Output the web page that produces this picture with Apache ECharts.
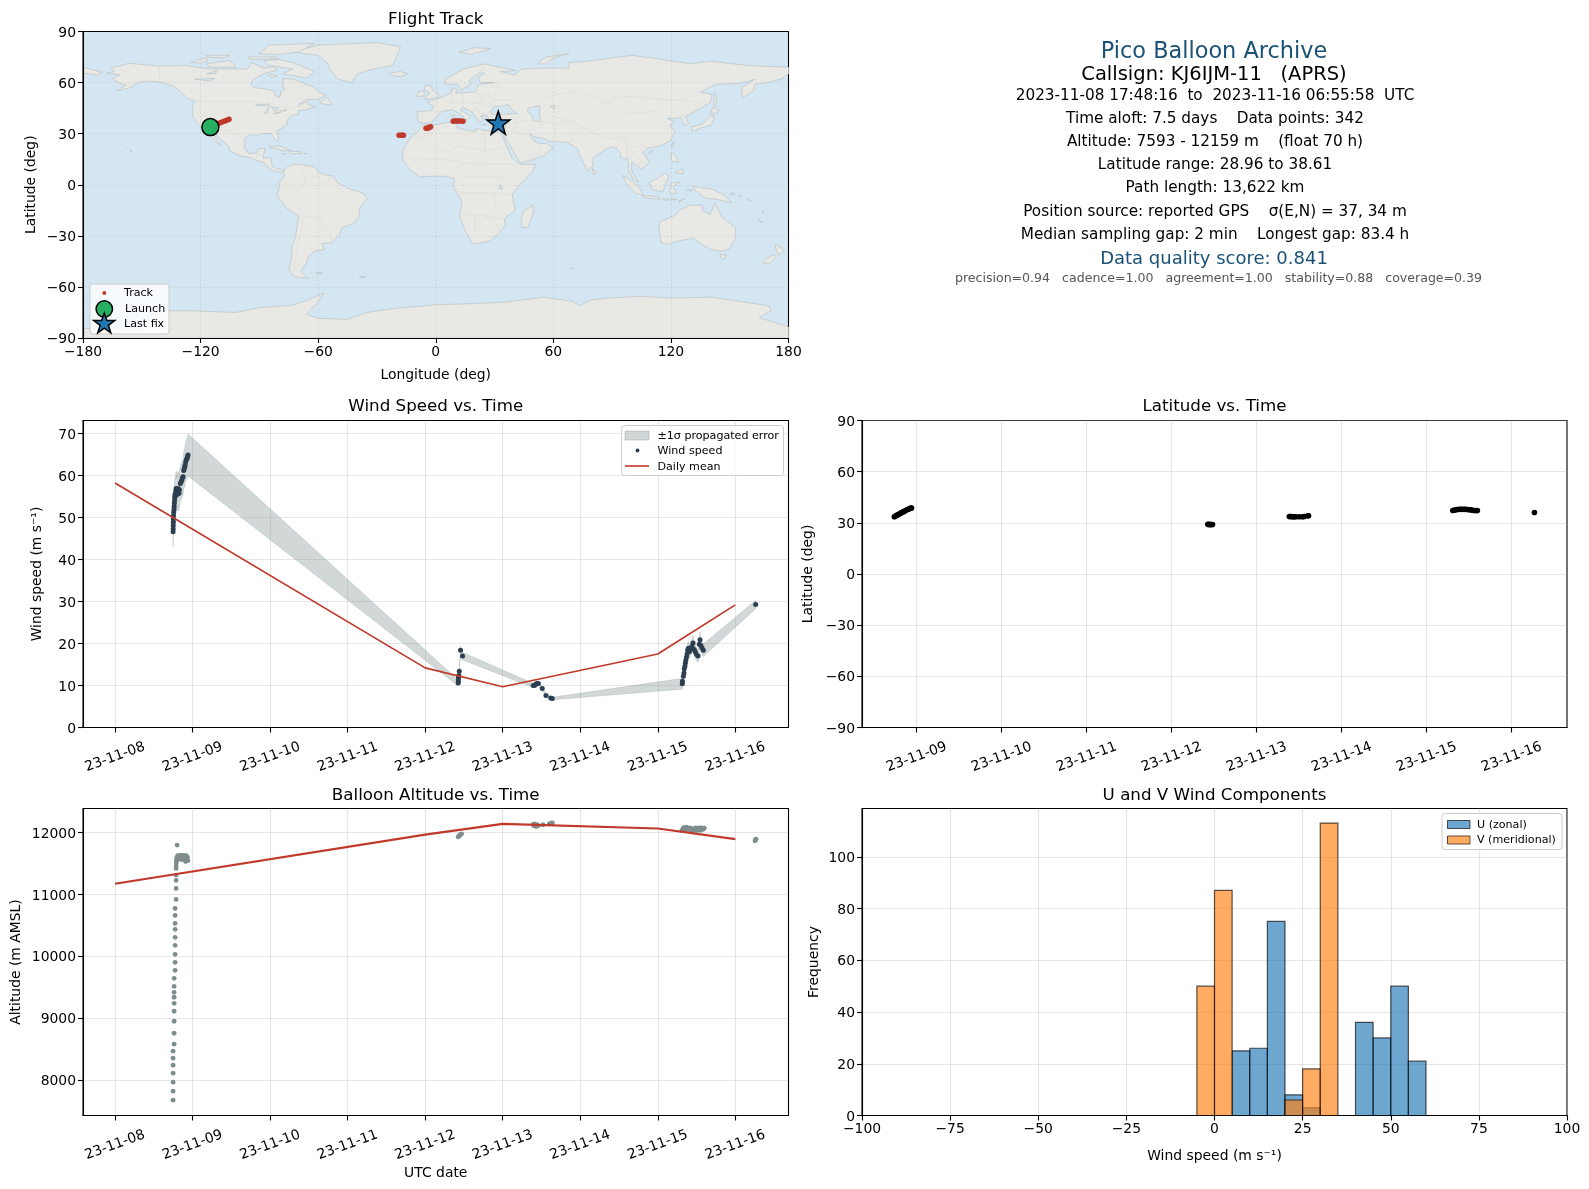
<!DOCTYPE html>
<html><head><meta charset="utf-8">
<style>html,body{margin:0;padding:0;background:#fff}#c{width:1589px;height:1189px}</style>
<script src="https://cdn.jsdelivr.net/npm/echarts@6/dist/echarts.min.js"></script>
</head><body><div id="c"></div>
<script>
// ---------- chart data ----------
const dayTicks = ['23-11-08','23-11-09','23-11-10','23-11-11','23-11-12','23-11-13','23-11-14','23-11-15','23-11-16'];
const meanDays = [0,4,5,7,8];
const meanWind = [58.2,14.2,9.7,17.5,29.2];
const meanAlt = [11171,11965,12139,12065,11892];
// [day, wind speed, sigma]
const windPoints = [
[.749,46.6,3.5],[.750,47.3,3.5],[.751,48.1,3.6],[.752,48.9,3.6],[.753,49.6,3.6],[.755,50.4,3.7],[.757,51.2,3.7],[.760,51.9,3.8],[.762,52.6,3.8],[.765,53.4,3.8],
[.768,54.1,3.9],[.770,54.9,4.0],[.773,55.5,4.0],[.776,55.0,4.0],[.779,55.6,4.0],[.783,56.3,4.1],[.788,56.9,4.1],[.793,55.4,4.0],[.800,56.8,4.1],[.808,55.6,4.0],
[.815,56.9,4.1],[.822,56.4,4.1],[.826,55.8,4.1],[.830,56.6,4.1],[.843,58.1,4.3],[.852,58.5,4.3],[.861,58.9,4.3],[.869,59.4,4.4],[.878,59.7,4.4],[.886,61.2,4.5],
[.893,61.7,4.6],[.900,62.0,4.6],[.904,62.5,4.7],[.912,63.3,4.7],[.921,63.8,4.8],[.930,64.1,4.8],[.936,64.5,4.9],[.942,64.9,5.0],
[4.426,10.6,.7],[4.428,11.1,.7],[4.430,11.7,.8],[4.432,12.1,.8],[4.434,12.4,.9],[4.440,13.4,.9],[4.456,18.4,1.0],[4.482,17.0,.9],
[5.394,10.0,.5],[5.41,10.0,.5],[5.425,10.3,.5],[5.44,10.5,.5],[5.46,10.5,.5],[5.51,9.3,.4],[5.558,7.6,.3],[5.62,7.0,.3],[5.64,6.9,.3],
[7.316,10.4,1.3],[7.318,11.0,1.3],[7.33,12.2,1.3],[7.338,13,1.3],[7.342,14,1.4],[7.35,14.6,1.4],[7.355,15.3,1.4],[7.362,16,1.4],[7.37,16.7,1.5],[7.378,17.5,1.5],
[7.385,18.4,1.6],[7.395,18.9,1.6],[7.41,18.1,1.6],[7.425,18.9,1.7],[7.44,19.3,1.7],[7.455,20.1,1.8],[7.47,18.6,1.6],[7.485,18.0,1.6],[7.50,17.4,1.5],[7.52,17.0,1.5],
[7.535,19.8,1.8],[7.545,20.9,1.9],[7.555,19.6,1.7],[7.57,19.0,1.6],[7.588,18.4,1.5],
[8.263,29.3,1.0]];
// [day, altitude]
const altPoints = [
[.749,7678],[.749,7823],[.749,7968],[.749,8113],[.749,8242],[.749,8355],[.749,8468],[.762,8581],[.762,8758],[.762,8952],[.762,9113],[.762,9242],[.762,9339],[.762,9419],[.762,9516],[.762,9645],
[.775,9774],[.775,9903],[.775,10032],[.775,10178],[.775,10307],[.775,10436],[.775,10532],[.775,10661],[.775,10774],[.788,10919],[.788,11097],[.788,11226],[.788,11312],[.788,11419],[.788,11460],[.790,11510],[.801,11796],
[.792,11550],[.796,11590],[.800,11560],[.806,11620],[.812,11580],[.820,11625],[.826,11610],[.834,11570],[.840,11630],[.848,11590],[.856,11620],[.862,11560],[.870,11630],[.878,11600],[.886,11570],[.894,11625],[.902,11590],[.910,11530],[.918,11625],[.926,11570],[.934,11600],[.940,11545],
[4.426,11930],[4.436,11945],[4.447,11952],[4.458,11968],[4.47,11978],
[5.394,12130],[5.40,12110],[5.41,12140],[5.42,12120],[5.43,12095],[5.44,12125],[5.46,12110],[5.52,12125],[5.60,12140],[5.625,12150],[5.64,12156],
[7.31,12030],[7.325,12060],[7.34,12080],[7.355,12040],[7.37,12085],[7.385,12065],[7.40,12045],[7.415,12075],[7.43,12030],[7.445,12060],[7.46,12010],[7.475,12050],[7.49,12075],[7.505,12030],[7.52,12060],[7.535,12075],[7.55,12035],[7.57,12075],[7.585,12050],[7.60,12070],
[8.254,11866],[8.26,11880],[8.267,11892]];
// [day, latitude]
const latPoints = [
[.737,33.6],[.75,34.0],[.765,34.4],[.78,34.8],[.795,35.2],[.81,35.6],[.825,36.0],[.84,36.4],[.855,36.8],[.87,37.2],[.885,37.6],[.90,38.0],[.915,38.3],[.93,38.6],[.94,38.7],
[4.425,29.1],[4.435,29.1],[4.445,29.0],[4.455,29.0],[4.465,29.0],[4.48,29.0],
[5.384,33.7],[5.395,33.7],[5.41,33.7],[5.425,33.6],[5.44,33.6],[5.46,33.6],[5.50,33.6],[5.54,33.6],[5.56,33.7],[5.60,34.1],[5.61,34.1],
[7.306,37.2],[7.32,37.4],[7.34,37.7],[7.36,37.8],[7.38,37.9],[7.40,37.9],[7.42,37.9],[7.44,37.9],[7.46,37.9],[7.48,37.8],[7.50,37.7],[7.52,37.6],[7.54,37.4],[7.56,37.2],[7.58,37.2],[7.596,37.2],
[8.267,36.1]];
// [lon, lat]
const trackPoints = [
[-115,33.85],[-114,34.4],[-113,34.9],[-112,35.4],[-111,35.9],[-110,36.4],[-109,36.9],[-108,37.3],[-107,37.8],[-106,38.2],[-105.5,38.5],
[-18.7,29.1],[-18,29],[-17.2,29],[-16.5,29],
[-5,33.2],[-4.4,33.2],[-3.8,33.4],[-3.2,33.7],[-2.6,34],
[8.9,37.3],[9.8,37.4],[10.8,37.5],[11.8,37.5],[12.8,37.4],[13.9,37.3],
[31.9,36.4]];
const launchPoint = [-115,33.85];
const lastFixPoint = [31.9,36.4];
const binEdges = [-5,0,5,10,15,20,25,30,35,40,45,50,55,60];
const uCounts = [0,0,25,26,75,8,3,0,0,36,30,50,21];
const vCounts = [50,87,0,0,0,6,18,113,0,0,0,0,0];

// ---------- base map outlines (lon, lat) ----------
const landNorthAmerica = [-168,65.5,-164,66.5,-166,68.5,-156.5,71.3,-141,69.7,-128,70,-115,68,-108,68,-96,68,-94,72,-88,68.5,-82,69.5,-81.5,67,-87,65.5,-93,62,-94.5,59,-92.5,57,-88,56.5,-82.5,55,-82,52.5,-79.5,51.3,-79,54.5,-77,56,-78,58.5,-78,62.5,-73,62,-70,61,-66,58.8,-62,57.5,-60,55,-56,52.5,-60,50.2,-66,50,-70,47,-65,49,-65,47,-61,46,-66,44,-70,43.5,-70,41.5,-74,40.5,-76,37,-76,35,-81,31.5,-80,26.5,-81,25,-82.8,28,-84,30,-89,30,-90,29,-94,29.5,-97.3,27.5,-97.7,22,-95.5,18.5,-91.5,18.5,-90.5,21,-87,21.5,-88,17,-88.5,15.8,-84,15.8,-83.5,11,-81,9,-79.5,9.5,-77.5,8.5,-78.5,7.5,-80.5,7.5,-83,8.3,-85.5,10,-87.5,13,-92,14.5,-95,16,-100,17,-105.5,20,-105.5,22.5,-109,26,-112.5,30,-114.7,31.5,-113,29,-110,23,-112,25,-115,28,-117,32.5,-120.5,34.5,-124,40,-124,47,-123,49,-127,51,-130,54.5,-134,58,-140,60,-146,61,-152,60,-156,57,-163,55,-158,58.5,-162,60,-165,62.5,-161,64.5];
const landSouthAmerica = [-77.5,8.5,-75,11,-72,12,-70,12,-62,10.5,-60,8,-57,6,-52,5,-50,1,-44,-2.5,-37,-5,-35,-8,-39,-14,-39,-18,-41,-22,-48,-25.5,-49,-29,-53,-34,-58,-34.5,-57,-38,-62,-39,-65,-42,-66,-46,-69,-51,-65,-55,-72,-54,-75,-50,-73.5,-42,-73.5,-37,-71.5,-30,-70,-18,-76,-14,-81,-6,-80,-2,-80,1,-77.5,4];
const landAfrica = [-17,15,-16.5,21,-13,27.5,-9.5,31,-6,35.8,-2,35,10,37.3,11,33.5,15,32.3,20,31,20.5,33,29,31,33,31,34,28,37,21,39,15.5,43,12,51,12,49,7,42,-1,39,-6,40.5,-15,35,-20,35.5,-24,32.5,-28,28,-33,20,-34.7,18,-33,15,-27,12,-18,13.5,-10,9,-1,9.5,3.5,5,5,-4,5,-8,4.5,-13,8.5];
const landEurasia = [-9,37,-9.5,43,-2,43.5,-1,46,-4.5,48.5,2,51,8,54,8.5,57,11,56,10,54,14,54,20,54.5,22,59,30,60,23,60,21.5,63,25,65.5,22,65.7,17,61,18,59,13,55.5,11,59,5,59,5,62,14,68,25,71,41,67,33,66.5,40,64.5,44,68,54,68.5,68,68.5,68,72,73,72,80,73,100,76,113,74,130,71,140,72.5,160,70,180,69,180,65,177,62.5,170,60,163,59,162,55,156.5,51,156,57,163,62,155,59.5,143,59,135,54.5,141,53,140,48,132,43,127.5,40,129,36,126.5,34.5,126,37,125,39.5,121,39,118,39,122,37,119.5,35,122,31,120,26,114,22.5,108,21.5,106,19,109,13,105,9,103,11,100,13.5,100,8,103.5,1.5,101,3,98.5,8,98,15,94.5,16,94,19,91,22.5,87,21,80.5,16,80,11,77.5,8,73,18,72.5,21,67,25,57,25.5,56,27,51,28,48,30,50,26,53,24,56,24.5,60,22,55,17,45,13,43,13,39,21,35,28,34.5,31.5,36,36,30,36.3,27,37,26.5,40,26,40.8,23,40.5,24,38,22.5,36.7,19.5,41,19,42.5,13.5,45.5,12.5,44,18,40,16,38,12,42,8.5,44,3,43,0,39.5,-2,36.8,-5.5,36];
const landGreenland = [-73,78,-60,82,-30,83.5,-18,81,-20,75,-22,70,-32,68,-40,65,-43,60,-50,62,-54,68,-55,71,-60,76];
const landAustralia = [114,-22,122,-18,125,-14.5,130,-12,136,-12,136,-15,140,-17.5,142.5,-10.7,146,-19,153,-25,153,-31,150,-37.5,146,-39,140,-38,136,-35,131,-31.5,124,-33,118,-35,115,-34,114,-27];
const landAntarctica = [-180,-90,-180,-84.5,-150,-84,-145,-76,-136,-74,-125,-74,-102,-75,-89,-72,-74,-71,-66,-68,-57,-63.5,-61,-70,-66,-76,-60,-78.5,-45,-79,-35,-75,-20,-72.5,0,-70.5,14,-70,35,-69,55,-66,70,-68.5,73,-71,80,-67.5,88,-66.5,105,-65.5,120,-66.5,141,-66,155,-68.5,170,-71,171,-74,165,-78,180,-83.5,180,-90];
const landIslands = [
[-180,69,-175,67.5,-170,66,-173,64.5,-180,65.5],
[-80,73.5,-72,71.5,-62,66.5,-66,62.5,-72,64,-78,65,-73,68,-85,70,-88,73],
[-117,71,-105,73,-102,69,-115,69],[-125,72,-118,74.5,-116,73,-120,71.5],
[-90,77,-85,82,-62,83,-70,78,-80,76.5],[-96,75,-82,75,-80,74,-95,73.5],[-117,76,-105,76,-108,74.5,-117,75],
[-59,48,-55.5,51.5,-53,47,-56,47],[-85,65,-81,64,-84,62.5],
[-5.5,50,1,51.2,1.5,53,-2,56,-2,57.7,-5,58.5,-6,56,-3,54,-5,52],[-10,52,-6,52,-6,55,-8.5,55],
[-24,65.5,-18,66.5,-14,65,-18,63.5,-22,64],[12,78,20,80.5,28,80,18,76.5],[52,71,56,75,68,77,60,74.5,56,71],
[12.5,38,15.5,38,15,36.8],[8.3,41,9.7,41,9.5,39,8.5,39],[23.5,35.5,26,35.3,25,35],[32.5,35,34.5,35.6,33.5,34.6],
[130.5,34,136,35.5,140,40,141.5,41,142,39,140.5,35,136,33.7,131,31.2],[140,42,141.5,45.5,145,43.5,143,42],[142,46,142,54,143.5,52,143,47],
[120.2,23,121.5,25.2,121,22],[108.7,19,110.5,20,110,18.3],[80,9.5,82,7,80.5,6],
[49.5,-12,50,-16,47,-25,44,-25,43.5,-21,44.5,-16],
[95.5,5.5,100,2,104,-2,106,-6,102,-5,97,1],[105.5,-6.5,110,-6.5,114.5,-7.5,114.5,-8.7,106,-7.5],
[109,1.5,113,3.5,117,7,119,5,117.5,1,116,-4,110.5,-3],[119.5,-5.5,120,1,125,1.5,121,-1,123,-5],
[131,-1,141,-2.5,147,-6,151,-10.5,143,-8.5,138,-8,133,-4],[120,18.5,122,18,124,13,120.5,14],[122,7,126,9.5,126,6.5],
[116,-8.3,119,-8.3,119,-9,116,-9],[120,-8.5,123,-8.3,122.5,-9],[124,-9.5,127,-8.4,124,-10.2],[128,-3,130.8,-3,130,-3.5],[150,-5.5,152,-4.5,152,-6],[155,-6,156,-7,155,-7],[159,-8,161,-9.5,160,-9.5],[167,-15,167.5,-16.5,166.7,-15.8],[164,-20,167,-22.2,166,-22.2],
[145,-41,148,-41,147.5,-43.5,146,-43.5],[173,-35,178,-38,175,-41.5,174,-39],[172,-41,174,-42,170,-46.5,167,-46,168,-44],
[-85,22,-80,23,-74,20,-78,20],[-74.5,19.5,-69,19.5,-68.5,18.5,-74,18],[-78.3,18.4,-76.3,18.2,-77,17.8],[-67.2,18.5,-65.7,18.4,-66,18],
[-156,20,-155,19.8,-155.6,19],[-158.3,21.6,-157.7,21.4,-158,21.2],[-61,-51.5,-58,-51.5,-58,-52.3,-61,-52.3],[69,-49,70.5,-49,70,-49.8],[-39,-54,-36,-54,-36,-54.6]];
const inlandWater = [
[28,43,30,46,33,46,37,47,38,45,41.5,42,36,41.5,31,41.3,28.5,41.5],[47,45,53,46.5,53,40,54,37,50,37.5,49,40.5,47,43],
[-92,46.8,-85,47.5,-85,46.5],[-87.5,42,-85,46,-86,42],[-84,46,-80,45,-82,43],[-83,41.7,-79,42.8,-79,42.5],[-79.5,43.5,-76,44,-76.5,43.3],
[58.5,46,61,46.5,60.5,44.5],[33,0,34,-2.5,32,-2],[-117,65,-112,67,-112,65.5],[-123,62,-113,62.5,-115,61]];
const countryBorders = [
[-123,49,-95,49,-83,46,-80,43,-75,45,-67,47],[-141,69.7,-141,60],[-117,32.5,-106,31.8,-97.3,26],[-92,14.5,-91,17.5,-89,17.8],
[-70,12,-67,6,-67,1.5,-70,-4,-74,-8,-70,-11,-69,-18],[-60,8,-60,5,-64,4,-67,1.5],[-52,5,-55,2,-60,1],[-80,-3,-75,-1,-70,-4],[-69,-18,-58,-20,-58,-27,-54,-26,-53,-34],[-70,-18,-68,-24,-71,-38,-72,-50],
[-13,27.5,-8,27,-1,32,-2,35],[-8,27,5,19,12,23,25,20,25,31.5],[-16.5,16,-5,15,3,15,14,13,24,12,36,12],[25,20,36,22],[36,12,43,12],[9,4,14,13],[14,5,27,5,34,4,42,-1],[12,-5,30,-5,39,-6],[12,-17,24,-18,35,-20],[20,-28,20,-18],[24,-18,30,-22,32.5,-27],[30,-5,30,-15],
[-1,43,3,43],[2,51,8,48,8,54],[8,48,14,48,14,54],[14,48,22,48,24,52,20,54.5],[22,48,28,46,30,50,40,50],[24,52,30,52,32,60],[14,48,13.5,45.5],[20,46,19,42.5],[26,41,22,42,20,46],[-7,42,-7,37],
[18,59,25,69],[36,36,42,37,45,38,48,38],[42,37,39,32,47,29],[39,32,34.5,30],[45,13,52,19,55,22],[48,38,61,36,61,31,62,25],[61,36,71,37,74,34,68,24],[74,34,79,31,88,27,97,28,92,22],[97,28,98,15],[98,21,105,23,108,21.5],[100,20,105,14,103,11],
[50,46,55,51,70,55,87,49,98,52,117,50,127,50,135,48,131,43],[87,49,80,42,74,39],[55,42,66,38,71,37],[87,49,98,42,112,43,117,50],[125,40,130,42.5]];
const allLand = [landNorthAmerica,landSouthAmerica,landAfrica,landEurasia,landGreenland,landAustralia,landAntarctica].concat(landIslands);

// ---------- text ----------
const infoLines = [
 ['Pico Balloon Archive',22.4,'#1a5276',52.5,1214],
 ['Callsign: KJ6IJM-11   (APRS)',19.5,'#000',74.5,1214],
 ['2023-11-08 17:48:16  to  2023-11-16 06:55:58  UTC',15.25,'#000',96.5,1215],
 ['Time aloft: 7.5 days    Data points: 342',15.25,'#000',119.5,1215],
 ['Altitude: 7593 - 12159 m    (float 70 h)',15.25,'#000',142.5,1215],
 ['Latitude range: 28.96 to 38.61',15.25,'#000',165.5,1215],
 ['Path length: 13,622 km',15.25,'#000',188.5,1215],
 ['Position source: reported GPS    σ(E,N) = 37, 34 m',15.25,'#000',212,1215],
 ['Median sampling gap: 2 min    Longest gap: 83.4 h',15.25,'#000',235,1215],
 ['Data quality score: 0.841',18,'#1a5276',259.5,1214],
 ['precision=0.94   cadence=1.00   agreement=1.00   stability=0.88   coverage=0.39',12.57,'#555',278.5,1218.5]];

// ---------- helpers ----------
const FONT = '"DejaVu Sans"';
const BOX = {map:[83,31.5,705.5,306.5],wind:[83,420.5,705.5,307],lat:[862,420.5,705,307],alt:[83,808.5,705.5,307],hist:[862,808.5,705,307]};
const RED='#c0392b', NAVY='#2c3e50', SLATE='#7f8c8d';
const grids = Object.values(BOX).map((b,i)=>({left:b[0],top:b[1],width:b[2],height:b[3],show:true,borderColor:'#000',borderWidth:1.1,
   backgroundColor:i===0?'#d4e6f1':'#fff',containLabel:false}));
const gridLine = {show:true,lineStyle:{color:'rgba(176,176,176,0.32)',width:1.1}};
function axis(o){
  const ticks=o.ticks, labels=o.labels;
  const fmt=v=>labels?labels[v]:String(v).replace('-','\u2212');
  const ax = {type:'value',gridIndex:o.g,min:o.min,max:o.max,z:o.z||0,
    axisLine:{show:true,onZero:false,lineStyle:{color:'#000',width:1.1}},
    axisTick:{show:true,length:5,lineStyle:{color:'#000',width:1.1},customValues:ticks},
    axisLabel:{color:'#000',fontFamily:FONT,fontSize:13.9,margin:o.margin||7,customValues:ticks,hideOverlap:false,showMinLabel:true,showMaxLabel:true,
      formatter:o.nudge?(v=>'{a|'+fmt(v)+'}'):fmt,
      rich:{a:{color:'#000',fontFamily:FONT,fontSize:13.9,padding:[3,0,0,0]}}},
    splitLine:o.split||gridLine};
  if(o.rotate){ax.axisLabel.rotate=o.rotate;ax.axisLabel.align='center';ax.axisLabel.verticalAlign='middle';}
  if(o.name){ax.name=o.name;ax.nameLocation='middle';ax.nameGap=o.gap;
     ax.nameTextStyle={color:'#000',fontFamily:FONT,fontSize:13.9,verticalAlign:'middle'};}
  return ax;
}
const seq=(a,b,s)=>{const r=[];for(let v=a;v<=b;v+=s)r.push(v);return r;};
const mapSplit={show:true,lineStyle:{color:'rgba(90,90,90,0.14)',width:.8,type:[2,2]}};
const tickDays=dayTicks.map((_,i)=>i);
const xAxes=[
 axis({g:0,min:-180,max:180,ticks:seq(-180,180,60),name:'Longitude (deg)',gap:37,split:mapSplit,z:4}),
 axis({g:1,min:-.413,max:8.686,ticks:tickDays,labels:dayTicks,rotate:20}),
 axis({g:2,min:.357,max:8.65,ticks:tickDays.slice(1),labels:dayTicks,rotate:20}),
 axis({g:3,min:-.413,max:8.686,ticks:tickDays,labels:dayTicks,rotate:20,name:'UTC date',gap:58}),
 axis({g:4,min:-100,max:100,ticks:seq(-100,100,25),name:'Wind speed (m s\u207B\u00B9)',gap:41})
];
xAxes[1].axisLabel.margin=xAxes[2].axisLabel.margin=xAxes[3].axisLabel.margin=29.5;
const yAxes=[
 axis({g:0,min:-90,max:90,ticks:seq(-90,90,30),name:'Latitude (deg)',gap:52,split:mapSplit,z:4,nudge:true}),
 axis({g:1,min:0,max:73.1,ticks:seq(0,70,10),name:'Wind speed (m s\u207B\u00B9)',gap:46,nudge:true}),
 axis({g:2,min:-90,max:90,ticks:seq(-90,90,30),name:'Latitude (deg)',gap:54,nudge:true}),
 axis({g:3,min:7430,max:12387,ticks:seq(8000,12000,1000),name:'Altitude (m AMSL)',gap:67,nudge:true}),
 axis({g:4,min:0,max:118.65,ticks:seq(0,100,20),name:'Frequency',gap:48,nudge:true})
];
const ax=i=>({xAxisIndex:i,yAxisIndex:i});
function polySeries(name,polys,fill,stroke,z){
  return Object.assign({type:'custom',name,silent:true,z,data:polys.map((_,i)=>[i]),animation:false,clip:true,
    renderItem:(p,api)=>{const f=polys[api.value(0)],pts=[];for(let k=0;k<f.length;k+=2)pts.push(api.coord([f[k],f[k+1]]));
      return {type:'polygon',shape:{points:pts},style:{fill,stroke,lineWidth:.7}};}},ax(0));
}
function histSeries(name,counts,rgb,z){
  return Object.assign({type:'custom',name,z,animation:false,data:counts.map((c,i)=>[binEdges[i],binEdges[i+1],c]).filter(d=>d[2]>0),
    renderItem:(p,api)=>{const a=api.coord([api.value(0),api.value(2)]),b=api.coord([api.value(1),0]);
      return {type:'rect',shape:{x:a[0],y:a[1],width:b[0]-a[0],height:b[1]-a[1]},style:{fill:'rgba('+rgb+',0.65)',stroke:'rgba(0,0,0,0.65)',lineWidth:1.2}};}},ax(4));
}
const bandSeries = Object.assign({type:'custom',name:'\u00B11\u03C3 propagated error',z:2,silent:true,animation:false,data:[[0]],
  renderItem:(p,api)=>{const up=windPoints.map(d=>api.coord([d[0],d[1]+d[2]])),lo=windPoints.map(d=>api.coord([d[0],d[1]-d[2]])).reverse();
    return {type:'polygon',shape:{points:up.concat(lo)},style:{fill:'rgba(127,140,141,0.35)',stroke:'rgba(127,140,141,0.35)',lineWidth:.6}};}},ax(1));
const scatter=(name,i,data,size,color,z,extra)=>Object.assign({type:'scatter',name,data,symbolSize:size,z:z||3,animation:false,itemStyle:{color,opacity:1},large:false},ax(i),extra||{});
const line=(name,i,xs,ys,w)=>Object.assign({type:'line',name,data:xs.map((x,k)=>[x,ys[k]]),showSymbol:false,symbol:'none',z:5,animation:false,lineStyle:{color:RED,width:w}},ax(i));

// ---------- graphics: info text and legends ----------
const T=(x,y,text,font,fill,align)=>({type:'text',z:50,silent:true,style:{x,y,text,font:font+'px '+FONT,fill:fill||'#000',align:align||'left',verticalAlign:'middle'}});
const legBox=(x,y,w,h)=>({type:'rect',z:40,silent:true,shape:{x,y,width:w,height:h,r:3},style:{fill:'rgba(255,255,255,0.8)',stroke:'#ccc',lineWidth:1}});
const starShape=[[0,-11],[2.6,-3.4],[10.5,-3.4],[4.1,1.3],[6.5,8.9],[0,4.2],[-6.5,8.9],[-4.1,1.3],[-10.5,-3.4],[-2.6,-3.4]];
const graphics=[
 ...infoLines.map(l=>T(l[4],l[3],l[0],l[1],l[2],'center')),
 // map legend
 legBox(90,284,79,50),
 {type:'circle',z:45,shape:{cx:104.3,cy:293,r:2},style:{fill:RED}},
 {type:'circle',z:45,shape:{cx:104.3,cy:309,r:8.2},style:{fill:'#27ae60',stroke:'#000',lineWidth:1.5}},
 {type:'polygon',z:46,shape:{points:starShape.map(p=>[104.3+p[0],324+p[1]])},style:{fill:'#1f77b4',stroke:'#000',lineWidth:1.5}},
 T(124,293.5,'Track',11.1),T(125,309.5,'Launch',11.1),T(124,324.5,'Last fix',11.1),
 // wind legend
 legBox(621.7,425.5,161.8,50),
 {type:'rect',z:45,shape:{x:625,y:431,width:24,height:9},style:{fill:'rgba(127,140,141,0.35)',stroke:'rgba(127,140,141,0.35)'}},
 {type:'circle',z:45,shape:{cx:637.5,cy:450.5,r:1.9},style:{fill:NAVY}},
 {type:'line',z:45,shape:{x1:625,y1:466,x2:649,y2:466},style:{stroke:RED,lineWidth:1.6}},
 T(657.5,436,'\u00B11\u03C3 propagated error',11.1),T(657.5,451,'Wind speed',11.1),T(657.5,467,'Daily mean',11.1),
 // hist legend
 legBox(1442,813.5,120,36),
 {type:'rect',z:45,shape:{x:1447.5,y:820.5,width:22.5,height:8},style:{fill:'rgba(31,119,180,0.65)',stroke:'rgba(0,0,0,0.65)',lineWidth:1}},
 {type:'rect',z:45,shape:{x:1447.5,y:836,width:22.5,height:8},style:{fill:'rgba(255,127,14,0.65)',stroke:'rgba(0,0,0,0.65)',lineWidth:1}},
 T(1477,825,'U (zonal)',11.1),T(1477,840.5,'V (meridional)',11.1)
];
const titleAt=(text,b,y)=>({text,left:b[0]+b[2]/2,top:y,padding:0,textAlign:'center',textVerticalAlign:'middle',textStyle:{fontFamily:FONT,fontSize:16.7,fontWeight:'normal',color:'#000'}});

const option={
 animation:false,backgroundColor:'#fff',textStyle:{fontFamily:FONT},
 title:[titleAt('Flight Track',BOX.map,19.2),titleAt('Wind Speed vs. Time',BOX.wind,406.3),titleAt('Latitude vs. Time',BOX.lat,406.3),
        titleAt('Balloon Altitude vs. Time',BOX.alt,795.2),titleAt('U and V Wind Components',BOX.hist,795.2)],
 grid:grids,xAxis:xAxes,yAxis:yAxes,
 series:[
  polySeries('Land',allLand,'#e8e8e4','#bcc3c6',2),
  polySeries('Inland water',inlandWater,'#d4e6f1','#bcc3c6',3),
  Object.assign({type:'custom',name:'Borders',silent:true,z:3,animation:false,data:countryBorders.map((_,i)=>[i]),
    renderItem:(p,api)=>{const f=countryBorders[api.value(0)],pts=[];for(let k=0;k<f.length;k+=2)pts.push(api.coord([f[k],f[k+1]]));
      return {type:'polyline',shape:{points:pts},style:{fill:null,stroke:'#dcdcd8',lineWidth:.7}};}},ax(0)),
  scatter('Track',0,trackPoints,5.5,RED,6),
  scatter('Launch',0,[launchPoint],17,'#27ae60',7,{itemStyle:{color:'#27ae60',opacity:1,borderColor:'#000',borderWidth:1.5}}),
  scatter('Last fix',0,[lastFixPoint],23,'#1f77b4',7,{symbol:'path://M0,-11 L2.6,-3.4 L10.5,-3.4 L4.1,1.3 L6.5,8.9 L0,4.2 L-6.5,8.9 L-4.1,1.3 L-10.5,-3.4 L-2.6,-3.4 Z',itemStyle:{color:'#1f77b4',opacity:1,borderColor:'#000',borderWidth:1.5}}),
  bandSeries,
  scatter('Wind speed',1,windPoints.map(d=>[d[0],d[1]]),5,NAVY,3),
  line('Daily mean',1,meanDays,meanWind,1.7),
  scatter('Latitude',2,latPoints,5.6,'#000',3),
  scatter('Altitude',3,altPoints,4.8,SLATE,3),
  line('Daily mean altitude',3,meanDays,meanAlt,2.1),
  histSeries('U (zonal)',uCounts,'31,119,180',3),
  histSeries('V (meridional)',vCounts,'255,127,14',4)
 ],
 graphic:graphics
};
echarts.init(document.getElementById('c'),null,{renderer:'canvas'}).setOption(option);
</script></body></html>
